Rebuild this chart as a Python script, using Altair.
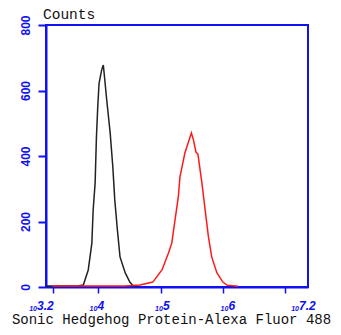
import altair as alt
import pandas as pd
import numpy as np

# Black histogram (isotype / unstained control): log10 intensity, counts
black_x = [3.20, 3.40, 3.60, 3.70, 3.77, 3.845, 3.90, 3.92, 3.95, 3.97, 3.99, 4.01, 4.05, 4.075,
           4.09, 4.127, 4.18, 4.22, 4.25, 4.29, 4.33, 4.41, 4.48, 4.53, 4.60]
black_y = [3, 3, 3, 4, 6, 52, 134, 235, 318, 458, 550, 622, 663, 678,
           648, 571, 470, 367, 266, 174, 92, 43, 15, 4, 2]

# Red histogram (Sonic Hedgehog Protein stained)
red_x = [3.30, 3.80, 4.10, 4.40, 4.635, 4.83, 4.97, 5.07, 5.12, 5.17, 5.22, 5.245, 5.27, 5.32,
         5.37, 5.42, 5.45, 5.49, 5.52, 5.58, 5.63, 5.68, 5.73, 5.81, 5.90, 5.97, 6.13]
red_y = [3, 3, 3, 3, 6, 15, 52, 104, 134, 205, 275, 336, 360, 409,
         440, 470, 450, 412, 405, 318, 235, 153, 92, 43, 15, 5, 2]

# Axis labels
x_label_pos = [3.2, 4, 5, 6, 7.2]
x_label_exp = ["3.2", "4", "5", "6", "7.2"]
y_ticks = [0, 200, 400, 600, 800]
x_title = "Sonic Hedgehog Protein-Alexa Fluor 488"
y_title = "Counts"

# minor/major tick positions on the log axis
tick_vals = [float(np.log10(k * 10 ** n)) for n in range(3, 8) for k in range(1, 10)
             if 3.2 <= np.log10(k * 10 ** n) <= 7.2]

BLUE = "#1010f0"

curves = pd.concat([
    pd.DataFrame({"x": black_x, "y": black_y, "s": "black", "o": range(len(black_x))}),
    pd.DataFrame({"x": red_x, "y": red_y, "s": "red", "o": range(len(red_x))}),
])

xscale = alt.Scale(domain=[3.2, 7.2], nice=False, zero=False)
yscale = alt.Scale(domain=[0, 800], nice=False)

lines = alt.Chart(curves).mark_line(strokeWidth=1.5).encode(
    x=alt.X("x:Q", scale=xscale, axis=alt.Axis(
        values=tick_vals, labels=False, tickSize=6, tickWidth=1.5, tickColor=BLUE,
        domainColor=BLUE, domainWidth=2, grid=False,
        title=x_title, titleFont="Liberation Mono", titleFontSize=14,
        titleFontWeight="normal", titleColor="#111", titleAnchor="start",
        titleAlign="center", titleX=125, titleY=36, titleBaseline="alphabetic")),
    y=alt.Y("y:Q", scale=yscale, axis=alt.Axis(
        values=y_ticks, labelAngle=270, labelColor=BLUE, labelFont="Liberation Sans",
        labelFontWeight="bold", labelFontSize=12, labelPadding=6, tickSize=8, tickWidth=2,
        tickColor=BLUE, domainColor=BLUE, domainWidth=2, grid=False, title=None)),
    color=alt.Color("s:N", scale=alt.Scale(domain=["black", "red"], range=["#222222", "#ff1a1a"]),
                    legend=None),
    order="o:Q",
    detail="s:N",
)

lab = pd.DataFrame({"x": x_label_pos, "e": x_label_exp, "b": ["10"] * len(x_label_pos),
                    "dec": [len(e) > 1 for e in x_label_exp]})

def labels(dec, shift):
    d = lab[lab["dec"] == dec]
    base = alt.Chart(d).mark_text(align="right", baseline="alphabetic", dx=shift,
                                  font="Liberation Sans", fontWeight="bold", fontStyle="italic",
                                  fontSize=7, color=BLUE).encode(
        x=alt.X("x:Q", scale=xscale), y=alt.value(286), text="b:N")
    exp = alt.Chart(d).mark_text(align="left", baseline="alphabetic", dx=shift,
                                 font="Liberation Sans", fontWeight="bold", fontStyle="italic",
                                 fontSize=12, color=BLUE).encode(
        x=alt.X("x:Q", scale=xscale), y=alt.value(285), text="e:N")
    return base + exp

counts = alt.Chart(pd.DataFrame({"t": [y_title]})).mark_text(
    align="left", baseline="alphabetic", font="Liberation Mono", fontSize=14.5, color="#111"
).encode(x=alt.value(-3), y=alt.value(-6), text="t:N")

chart = alt.layer(lines, labels(False, -1), labels(True, -9), counts).properties(
    width=262, height=262,
    background="white",
    autosize=alt.AutoSizeParams(type="none"),
    padding={"left": 38, "top": 17, "right": 25, "bottom": 40},
).configure_view(stroke=BLUE, strokeWidth=2)

chart.save("out.html", embed_options={"renderer": "svg", "actions": False})
